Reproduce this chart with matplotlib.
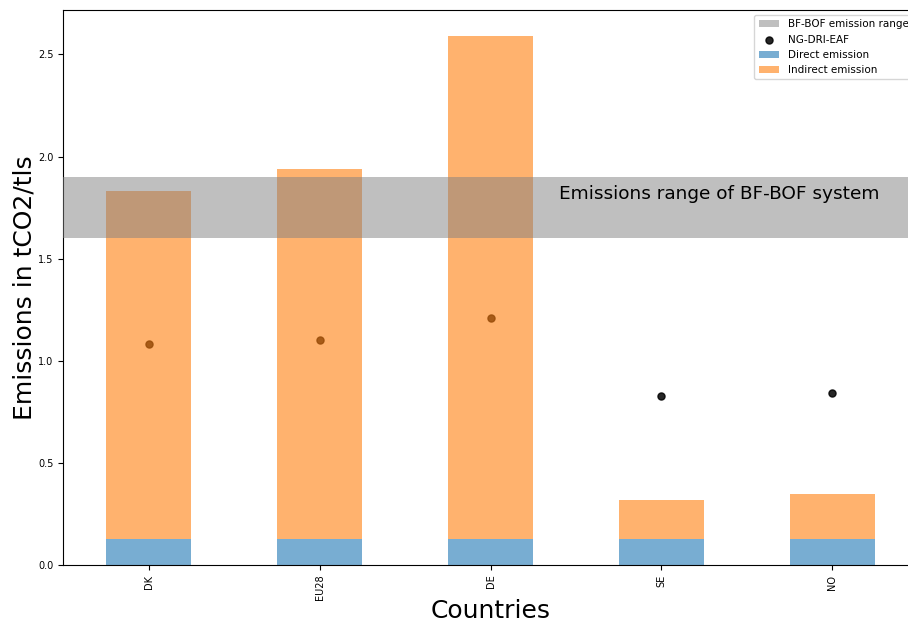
import matplotlib
matplotlib.use("Agg")
import matplotlib.pyplot as plt
import numpy as np

countries = ["DK", "EU28", "DE", "SE", "NO"]
direct = [0.127, 0.127, 0.127, 0.127, 0.127]
total = [1.83, 1.937, 2.588, 0.318, 0.347]
ng_dri_eaf = [1.08, 1.10, 1.21, 0.83, 0.84]
bfbof_low = 1.6
bfbof_high = 1.9

indirect = [t - d for t, d in zip(total, direct)]
x = np.arange(len(countries))

fig = plt.figure(figsize=(9.08, 6.26), dpi=100)
ax = fig.add_axes([0.0694, 0.0974, 0.9416, 0.8866])

ax.scatter(x, ng_dri_eaf, s=26, color="black", alpha=0.85, zorder=1, label="NG-DRI-EAF")
ax.bar(x, direct, width=0.5, color="tab:blue", alpha=0.6, zorder=2, label="Direct emission")
ax.bar(x, indirect, width=0.5, bottom=direct, color="tab:orange", alpha=0.6, zorder=2,
       label="Indirect emission")
ax.axhspan(bfbof_low, bfbof_high, color="gray", alpha=0.5, linewidth=0, zorder=3,
           label="BF-BOF emission range")

ax.text(2.4, 1.79, "Emissions range of BF-BOF system", fontsize=13.3, zorder=4)

ax.set_xlim(-0.5, 4.5)
ax.set_ylim(0, max(total) * 1.05)
ax.set_xticks(x)
ax.set_xticklabels(countries, rotation=90, fontsize=7)
ax.tick_params(axis="y", labelsize=7)
ax.set_xlabel("Countries", fontsize=18, labelpad=-1)
ax.set_ylabel("Emissions in tCO2/tls", fontsize=18, labelpad=1)

handles, labels = ax.get_legend_handles_labels()
order = [labels.index(l) for l in ["BF-BOF emission range", "NG-DRI-EAF", "Direct emission", "Indirect emission"]]
ax.legend([handles[i] for i in order], [labels[i] for i in order], loc="upper right", fontsize=7.5)

fig.savefig("out.png", dpi=100)
